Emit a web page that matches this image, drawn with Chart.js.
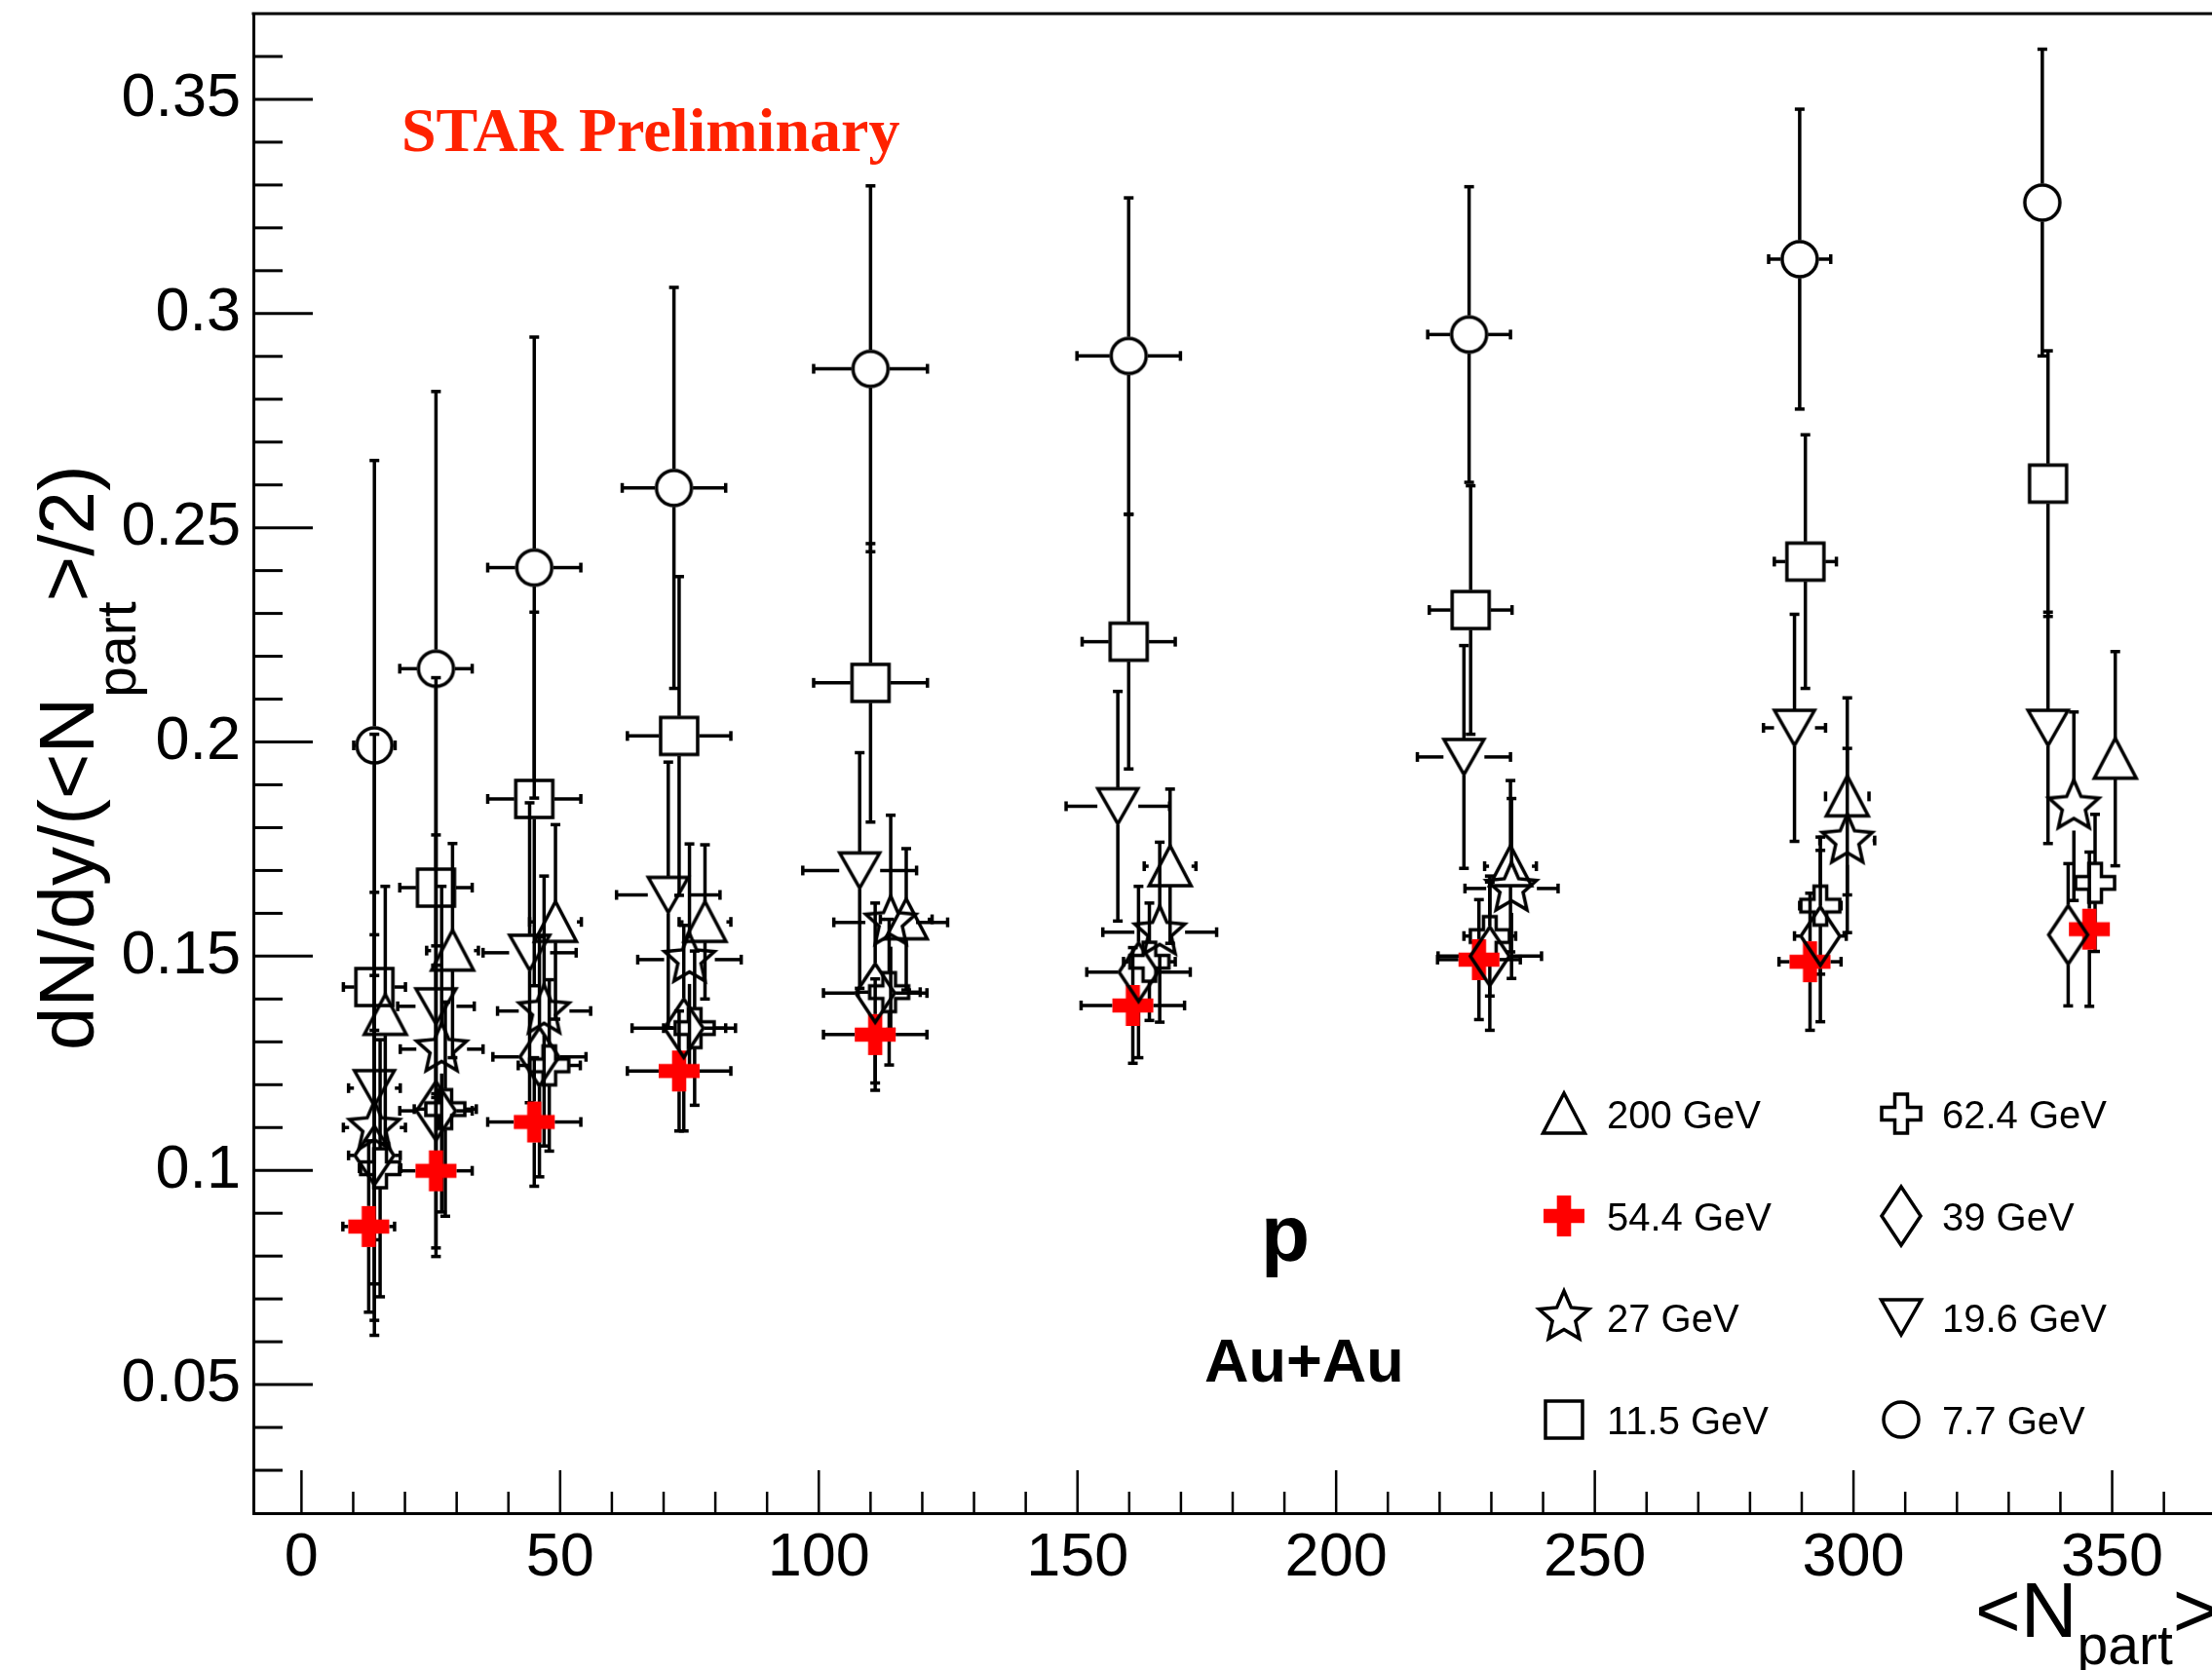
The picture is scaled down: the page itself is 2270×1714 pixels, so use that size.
<!DOCTYPE html>
<html>
<head>
<meta charset="utf-8">
<script src="https://cdn.jsdelivr.net/npm/chart.js@4.4.0/dist/chart.umd.min.js"></script>
<style>
  html, body { margin: 0; padding: 0; background: #fff; }
  canvas { display: block; }
</style>
</head>
<body>
<canvas id="chart" width="2270" height="1714"></canvas>
<script>
// <Npart>, dN/dy/(<Npart>/2), y error, <Npart> error -- centrality 70-80% ... 0-5%
const npart7   = [14.1, 26.0, 45.0, 72.0, 110.0, 159.9, 225.7, 289.6, 336.5];
const yield7   = [0.1992, 0.2171, 0.2407, 0.2593, 0.2871, 0.2901, 0.2951, 0.3127, 0.3259];
const err7     = [0.0665, 0.0647, 0.0538, 0.0468, 0.0427, 0.0369, 0.0345, 0.035, 0.0358];
const nerr7    = [4, 7, 9, 10, 11, 10, 8, 6, 0];

const npart11  = [14.1, 26.0, 45.0, 73.0, 110.0, 159.9, 226.0, 290.7, 337.6];
const yield11  = [0.1428, 0.166, 0.1867, 0.2014, 0.2138, 0.2234, 0.2308, 0.2421, 0.2603];
const err11    = [0.059, 0.049, 0.0436, 0.0372, 0.0325, 0.0297, 0.029, 0.0296, 0.031];
const nerr11   = [6, 7, 9, 10, 11, 9, 8, 6, 0];

const npart19  = [14.1, 26.0, 44.1, 70.9, 107.9, 157.8, 224.7, 288.6, 337.6];
const yield19  = [0.1192, 0.1383, 0.1508, 0.1643, 0.170, 0.185, 0.1965, 0.2033, 0.2033];
const err19    = [0.0457, 0.040, 0.035, 0.031, 0.0275, 0.0268, 0.026, 0.0265, 0.027];
const nerr19   = [5, 7.4, 9, 10, 11, 10, 9, 6, 0];

const npart27  = [14.1, 27.1, 46.9, 75.0, 113.9, 165.9, 233.9, 298.8, 342.6];
const yield27  = [0.110, 0.1283, 0.1372, 0.1492, 0.1579, 0.1556, 0.1658, 0.177, 0.185];
const err27    = [0.045, 0.038, 0.0315, 0.027, 0.025, 0.021, 0.021, 0.0215, 0.022];
const nerr27   = [6, 8, 9, 10, 11, 11, 9, 5.3, 0];

const npart39  = [14.1, 26.0, 46.0, 73.9, 110.9, 161.8, 229.7, 293.6, 341.5];
const yield39  = [0.1035, 0.1139, 0.1265, 0.1332, 0.1414, 0.1463, 0.150, 0.1547, 0.155];
const err39    = [0.042, 0.034, 0.028, 0.024, 0.021, 0.020, 0.0173, 0.02, 0.0166];
const nerr39   = [5, 7, 9, 10, 10, 10, 10, 5, 0];

const npart54  = [13.0, 26.0, 45.0, 73.0, 110.9, 160.7, 227.6, 291.6, 345.6];
const yield54  = [0.0869, 0.0999, 0.1113, 0.1232, 0.1317, 0.1385, 0.1492, 0.1487, 0.1563];
const err54    = [0.02, 0.018, 0.015, 0.014, 0.013, 0.0135, 0.014, 0.016, 0.018];
const nerr54   = [5, 7, 9, 10, 10, 10, 8, 6, 0];

const npart62  = [15.2, 27.8, 47.9, 76.0, 113.6, 163.9, 229.7, 293.6, 346.7];
const yield62  = [0.1005, 0.1143, 0.1245, 0.1332, 0.1416, 0.1487, 0.1547, 0.1618, 0.1671];
const err62    = [0.03, 0.025, 0.02, 0.018, 0.017, 0.0137, 0.014, 0.016, 0.016];
const nerr62   = [4, 6, 6, 6, 6, 5, 5, 4, 0];

const npart200 = [16.2, 29.2, 49.1, 78.0, 116.9, 167.9, 233.7, 298.8, 350.6];
const yield200 = [0.1363, 0.1513, 0.158, 0.158, 0.1586, 0.171, 0.171, 0.1873, 0.1961];
const err200   = [0.030, 0.025, 0.0227, 0.018, 0.0165, 0.018, 0.02, 0.023, 0.025];
const nerr200  = [3.6, 5, 5, 5, 5, 5, 5, 4.2, 0];

const xTickValues = [0, 50, 100, 150, 200, 250, 300, 350];
const yTickValues = [0.05, 0.1, 0.15, 0.2, 0.25, 0.3, 0.35];
const yTickLabels = ['0.05', '0.1', '0.15', '0.2', '0.25', '0.3', '0.35'];

const FONT = '"Liberation Sans", Arial, Helvetica, sans-serif';
const LW = 3.5;

// ROOT-like open markers drawn into small canvases, used as pointStyle
function makeMarker(shape) {
    const c = document.createElement('canvas');
    c.width = 80; c.height = 80;
    const g = c.getContext('2d');
    g.translate(40, 40);
    g.lineWidth = LW;
    g.strokeStyle = '#000';
    g.lineJoin = 'miter';
    g.beginPath();
    const poly = pts => { g.moveTo(pts[0][0], pts[0][1]); pts.slice(1).forEach(p => g.lineTo(p[0], p[1])); g.closePath(); };
    const cross = (a, w) => poly([[-w,-a],[w,-a],[w,-w],[a,-w],[a,w],[w,w],[w,a],[-w,a],[-w,w],[-a,w],[-a,-w],[-w,-w]]);
    if (shape === 'circle') g.arc(0, 0, 18, 0, Math.PI * 2);
    if (shape === 'square') g.rect(-19, -19, 38, 38);
    if (shape === 'triUp') poly([[-21.5, 20], [21.5, 20], [0, -21]]);
    if (shape === 'triDown') poly([[-20.5, -18], [20.5, -18], [0, 18]]);
    if (shape === 'diamond') poly([[0, -30], [20, 0], [0, 30], [-20, 0]]);
    if (shape === 'star') {
        const pts = [];
        for (let i = 0; i < 10; i++) {
            const r = i % 2 === 0 ? 27 : 12.5;
            const ang = -Math.PI / 2 + i * Math.PI / 5;
            pts.push([r * Math.cos(ang), r * Math.sin(ang)]);
        }
        poly(pts);
    }
    if (shape === 'openCross') cross(20, 6.5);
    if (shape === 'fullCross') {
        cross(21, 7.3);
        g.fillStyle = '#ff0000';
        g.fill();
        return c;
    }
    g.stroke();
    return c;
}

const markers = {
    circle: makeMarker('circle'), square: makeMarker('square'), triUp: makeMarker('triUp'),
    triDown: makeMarker('triDown'), diamond: makeMarker('diamond'), star: makeMarker('star'),
    openCross: makeMarker('openCross'), fullCross: makeMarker('fullCross')
};
// half sizes of each marker, used as the gap of the error bars
const gaps = {
    circle: {h: 19.5, v: 19.5}, square: {h: 20.5, v: 20.5}, triUp: {h: 22, v: 21},
    triDown: {h: 21, v: 19}, diamond: {h: 21, v: 31}, star: {h: 26, v: 25},
    openCross: {h: 21, v: 21}, fullCross: {h: 21, v: 21}
};

function makeSet(label, shape, nx, ny, ey, ex) {
    return {
        label: label,
        data: nx.map((v, i) => ({x: v, y: ny[i], ey: ey[i], ex: ex[i]})),
        pointStyle: markers[shape],
        pointRadius: 20,
        gap: gaps[shape],
        showLine: false
    };
}

// first dataset is drawn last (on top)
const datasets = [
    makeSet('7.7 GeV', 'circle', npart7, yield7, err7, nerr7),
    makeSet('11.5 GeV', 'square', npart11, yield11, err11, nerr11),
    makeSet('19.6 GeV', 'triDown', npart19, yield19, err19, nerr19),
    makeSet('27 GeV', 'star', npart27, yield27, err27, nerr27),
    makeSet('39 GeV', 'diamond', npart39, yield39, err39, nerr39),
    makeSet('54.4 GeV', 'fullCross', npart54, yield54, err54, nerr54),
    makeSet('62.4 GeV', 'openCross', npart62, yield62, err62, nerr62),
    makeSet('200 GeV', 'triUp', npart200, yield200, err200, nerr200)
];

const legendRows = [
    ['triUp', '200 GeV', 'openCross', '62.4 GeV'],
    ['fullCross', '54.4 GeV', 'diamond', '39 GeV'],
    ['star', '27 GeV', 'triDown', '19.6 GeV'],
    ['square', '11.5 GeV', 'circle', '7.7 GeV']
];

const errorBars = {
    id: 'errorBars',
    beforeDatasetsDraw(chart) {
        const {ctx, scales: {x, y}} = chart;
        const cap = 5;
        ctx.save();
        ctx.strokeStyle = '#000';
        ctx.lineWidth = LW;
        const line = (x1, y1, x2, y2) => { ctx.beginPath(); ctx.moveTo(x1, y1); ctx.lineTo(x2, y2); ctx.stroke(); };
        chart.data.datasets.forEach(ds => {
            const g = ds.gap;
            ds.data.forEach(p => {
                const px = x.getPixelForValue(p.x), py = y.getPixelForValue(p.y);
                const top = y.getPixelForValue(p.y + p.ey), bot = y.getPixelForValue(p.y - p.ey);
                if (top < py - g.v) {
                    line(px, py - g.v, px, top); line(px - cap, top, px + cap, top);
                    line(px, py + g.v, px, bot); line(px - cap, bot, px + cap, bot);
                }
                if (p.ex > 0) {
                    const lf = x.getPixelForValue(p.x - p.ex), rt = x.getPixelForValue(p.x + p.ex);
                    if (lf < px - g.h) {
                        line(px - g.h, py, lf, py); line(lf, py - cap, lf, py + cap);
                        line(px + g.h, py, rt, py); line(rt, py - cap, rt, py + cap);
                    }
                }
            });
        });
        ctx.restore();
    }
};

const decorations = {
    id: 'decorations',
    afterDraw(chart) {
        const {ctx, chartArea: a, scales: {x, y}} = chart;
        ctx.save();
        ctx.strokeStyle = '#000';
        ctx.lineWidth = 3;
        ctx.beginPath(); ctx.moveTo(a.left - 1.5, a.top); ctx.lineTo(a.right, a.top); ctx.stroke();

        // inward ticks, ROOT style
        for (let i = 3; i <= 36; i++) {
            const py = y.getPixelForValue(i / 100);
            ctx.beginPath(); ctx.moveTo(a.left, py); ctx.lineTo(a.left + (i % 5 === 0 ? 61 : 30), py); ctx.stroke();
        }
        ctx.lineWidth = 2.5;
        for (let i = 0; i <= 36; i++) {
            const px = x.getPixelForValue(i * 10);
            ctx.beginPath(); ctx.moveTo(px, a.bottom); ctx.lineTo(px, a.bottom - (i % 5 === 0 ? 44 : 22)); ctx.stroke();
        }

        ctx.fillStyle = '#000';
        ctx.textBaseline = 'alphabetic';
        ctx.textAlign = 'left';

        // y title
        ctx.save();
        ctx.translate(96, 1078);
        ctx.rotate(-Math.PI / 2);
        ctx.font = '80px ' + FONT;
        ctx.fillText('dN/dy/(<N', 0, 0);
        let w = ctx.measureText('dN/dy/(<N').width;
        ctx.font = '57px ' + FONT;
        ctx.fillText('part', w, 43);
        w += ctx.measureText('part').width;
        ctx.font = '80px ' + FONT;
        ctx.fillText('>/2)', w, 0);
        ctx.restore();

        // x title
        ctx.font = '80px ' + FONT;
        ctx.fillText('<N', 2027, 1680);
        w = 2027 + ctx.measureText('<N').width;
        ctx.font = '57px ' + FONT;
        ctx.fillText('part', w, 1708);
        w += ctx.measureText('part').width;
        ctx.font = '80px ' + FONT;
        ctx.fillText('>', w, 1680);

        ctx.font = 'bold 64px "Liberation Serif", "Times New Roman", serif';
        ctx.fillStyle = '#ff2200';
        ctx.fillText('STAR Preliminary', 412, 155);

        ctx.fillStyle = '#000';
        ctx.font = 'bold 82px ' + FONT;
        ctx.fillText('p', 1294, 1294);
        ctx.font = 'bold 63px ' + FONT;
        ctx.fillText('Au+Au', 1236, 1418);

        // legend
        const rowY = [1143, 1248, 1352, 1457];
        const colMarker = [1605, 1951];
        const colText = [1649, 1993];
        ctx.font = '40px ' + FONT;
        legendRows.forEach((row, r) => {
            for (let c = 0; c < 2; c++) {
                const m = markers[row[c * 2]];
                ctx.drawImage(m, colMarker[c] - m.width / 2, rowY[r] - m.height / 2);
                ctx.fillText(row[c * 2 + 1], colText[c], rowY[r] + 15);
            }
        });
        ctx.restore();
    }
};

new Chart(document.getElementById('chart'), {
    type: 'scatter',
    data: { datasets: datasets },
    options: {
        responsive: false,
        animation: false,
        devicePixelRatio: 1,
        events: [],
        layout: { autoPadding: false, padding: { top: 14, right: 0, left: 0, bottom: 0 } },
        plugins: { legend: { display: false }, tooltip: { enabled: false } },
        scales: {
            x: {
                type: 'linear',
                min: -9.3,
                max: 369.3,
                grid: { display: false, drawTicks: false },
                border: { display: true, color: '#000', width: 3 },
                ticks: {
                    autoSkip: false, maxRotation: 0, padding: 9, color: '#000',
                    font: { family: FONT, size: 63 },
                    callback: v => String(v)
                },
                afterBuildTicks: s => { s.ticks = xTickValues.map(v => ({ value: v })); },
                afterFit: s => { s.height = 161; s.paddingLeft = 0; s.paddingRight = 0; }
            },
            y: {
                type: 'linear',
                min: 0.02,
                max: 0.37,
                grid: { display: false, drawTicks: false },
                border: { display: true, color: '#000', width: 3 },
                ticks: {
                    autoSkip: false, padding: 13, color: '#000',
                    font: { family: FONT, size: 63 },
                    callback: (v, i) => yTickLabels[i]
                },
                afterBuildTicks: s => { s.ticks = yTickValues.map(v => ({ value: v })); },
                afterFit: s => { s.width = 260; s.paddingTop = 0; s.paddingBottom = 0; }
            }
        }
    },
    plugins: [errorBars, decorations]
});
</script>
</body>
</html>
